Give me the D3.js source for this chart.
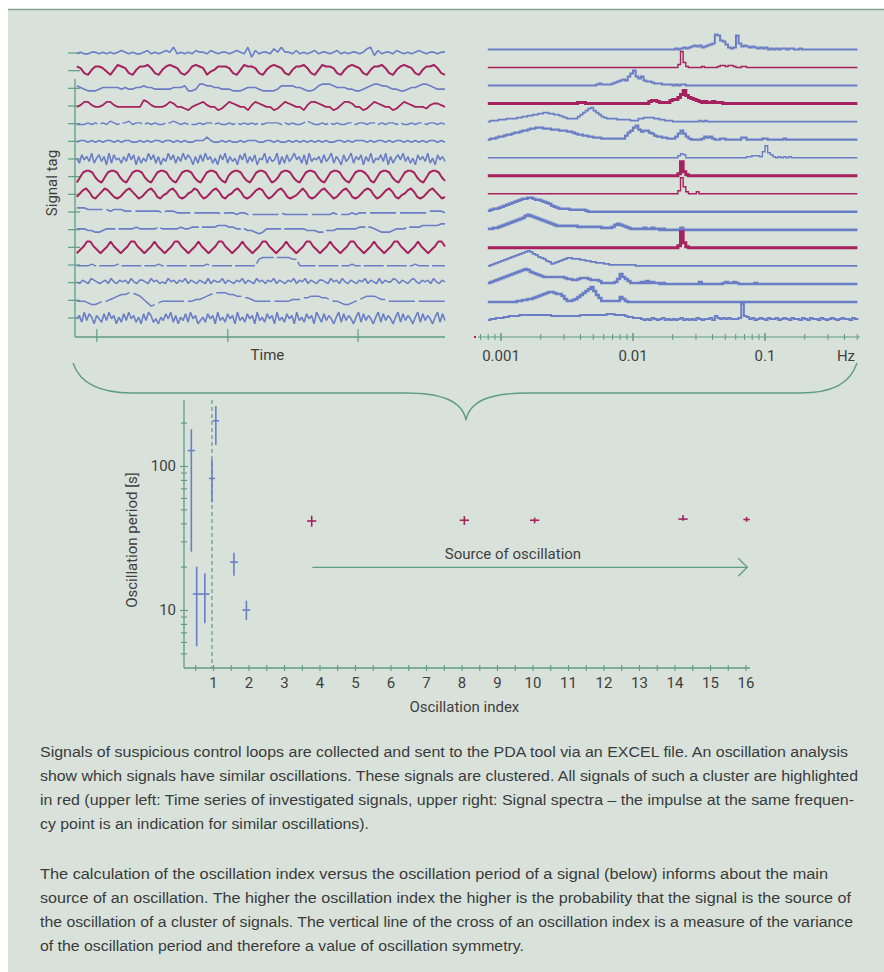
<!DOCTYPE html>
<html>
<head>
<meta charset="utf-8">
<script src="https://cdn.jsdelivr.net/npm/d3@7"></script>
<style>
  body { margin: 0; background: #ffffff; }
</style>
</head>
<body>
<div id="figure"></div>
<script>
// ---- data ----
// colour of each signal row (b = blue, r = red cluster)
var rowColors = ["b","r","b","r","b","b","b","r","r","b","b","r","b","b","b","b"];

// time series, one digit per sample (0 = low .. 9 = high)
var timeSeries = [
  "4544554545 4565454456 4545658454 5465546545 5456548264 5547585546 4545645545 6454554578 3645546545 4565455455",
  "7632577642 5876325778 6325787632 4787624577 7632587763 2578763257 7863258776 3257876325 7786325787 6325778632",
  "6543334555 5545445565 5444445556 3347766554 4433345554 3333466665 5433467776 5554433456 7766544334 5567765444",
  "4577544577 5444444487 5444576443 2456754423 5765442576 5442357654 4257765442 3577644235 7654423576 5444356654",
  "4445454546 5455645545 4544556545 4445455454 4545454545 4555545454 4565445454 5445545545 5454554544 5455455454",
  "4554545455 4545544545 4554554545 4455575445 4544545554 4554544545 4545454544 5545455545 4554545545 4545455454",
  "5274638257 3618274526 3847162538 4726153847 2638475162 7384625174 8263517482 6371548263 4816273584 6271835462 7358264173 5826471638 2547381625 7483625174 6382517463",
  "1478874214 7887421478 8742147887 4214788742 1478874215 7887421478 8741247887 4214788742 1478874214 7887521478 8742147887 4214788742",
  "3578632468 7532357864 2357863245 7863235687 4235786324 5786323578 7423578632 3468632357 8642357863 2357874235 7863245786 3235786423",
  "7776666665 6665555555 5554555444 4444444443 4443443333 3333343333 3333333334 3333434444 4444444444 4444455554",
  "5554433455 5555556555 5565555565 5666666677 7665554432 3555555555 5544433444 5555556666 5433345556 6667777788",
  "1358853135 8531358853 1358531358 8531358531 3588531358 5313588531 3585313588 5313585313 5885313585 3135885313 5853135885",
  "4444544444 4544444444 4454444444 4444454444 4444444448 9999999988 4444444444 4444544444 4444444444 4544444444",
  "5465476545 6475465647 5466547564 5475646574 6546547465 5746546574 6547564657 4654657465 7465466547 5647546546 5746547465 5764654675 4656475465",
  "4443223445 6788998753 1234444444 4455678999 9887766544 4444444455 5667776654 4322345677 7655444444 4444444444",
  "4628375164 2738461527 3846251738 6241537482 6153728461 3527461835 2746183527 4618352746 1835274618 3527461852 7364158273 6415827364 1582736415 8273641582 7364158273"
];

// spectra: amplitude (base 36 digit) on a log-frequency grid starting at 10^-3.1 Hz, step 0.02 decade
var specLogStart = -3.1;
var specLogStep = 0.02;
var spectra = [
  "0000000000 0000000000 0000000000 0000000000 0000000000 0000000000 0000000000 0101212343 423456fe98 5212e63432 3212120101 0110110010 0000000000 0000000000 0",
  "0000000000 0000000000 0000000000 0000000000 0000000000 0000000000 0000000000 003g510000 0100000122 1221001100 0000000000 0000000000 0000000000 0000000000 0",
  "0000000000 0000000000 0000000000 0000000000 0121111234 5659cf9795 4432221111 0101100000 0000000000 0000000000 0000000000 0000000000 0000000000 0000000000 0",
  "0000000000 0000000000 0000000000 0000111000 0000000000 0000000000 0233211113 4469d86543 2121121110 0000000000 0000000000 0000000000 0000000000 0000000000 0",
  "0111222333 3445566778 8998877654 3333579bde b975433332 2222111334 4443322111 0000000000 1010000000 0000000000 0000000000 0000000000 0000000000 0000000000 0",
  "0112334556 77899abbcc cbbbaaa999 8876554433 2221111111 11479cea89 9764332211 1369631000 0132310011 0000002200 0000110000 0010000000 0000000000 0000000000 0",
  "0000000000 0000000000 0000000000 0000000000 0000000000 0000000000 0000000000 0024300000 0000000000 0000000011 22216c5310 1010100000 0000000000 0000000000 0",
  "0000000000 0000000000 0000000000 0000000000 0000000000 0000000000 0000000000 002e410000 0000000000 0000000000 0000000000 0000000000 0000000000 0000000000 0",
  "0000000000 0000000000 0000000000 0000000000 0000000000 0000000000 0000000000 003g720002 0000000000 0000000000 0000000000 0000000000 0000000000 0000000000 0",
  "1233456789 abcddeedcc ba98654333 3222222100 0000000000 0000000000 0000000000 0000000000 0000000000 0000000000 0000000000 0000000000 0000000000 0000000000 0",
  "1122345678 9abcefedcb a987654444 4444333333 3332222356 5432111112 1121101000 0002000000 0000000000 0000000000 0000000000 0000000000 0000000000 0000000000 0",
  "0000000000 0000000000 0000000000 0000000000 0000000000 0000000000 0000000000 002g510000 0000000000 0000000000 0000000000 0000000000 0000000000 0000000000 0",
  "0123456789 abcdefecb9 8754234567 8877766554 4333221111 1111110000 0000000000 0000000000 0000000000 0000000000 0000000000 0000000000 0000000000 0000000000 0",
  "123456789a bcdefecba9 8777777776 5544566654 4431111125 a753111121 3121101000 0000000000 2000000001 2112100000 0100000000 0000000000 0000000000 0000000000 0",
  "0000000000 0112233456 789aa98863 1123579bdf b741111111 5310000000 0000000000 0000000000 0000000000 0000000000 0000000000 0000000000 0000000000 0000000000 0",
  "0112223344 4455555555 5555444444 4444455555 5555566655 5543322210 1021012010 1012010102 1011204212 121112g431 2012102112 0121021102 1021102101 2101211021 0"
];
var freqTicksMajor = [0.001, 0.01, 0.1];
var freqTicksMinor = [0.0007, 0.0008, 0.0009, 0.002, 0.003, 0.004, 0.005, 0.006, 0.007, 0.008, 0.009,
                      0.02, 0.03, 0.04, 0.05, 0.06, 0.07, 0.08, 0.09, 0.2, 0.3, 0.4, 0.5];
var freqLabels = ["0.001", "0.01", "0.1"];

// oscillation index vs period
var oscIndex  = [0.39, 0.54, 0.77, 0.97, 1.08, 1.59, 1.94, 3.78, 8.08, 10.06, 14.24, 16.03];
var oscPeriod = [128, 12.9, 12.9, 82, 206, 21.5, 10, 41.5, 42, 42, 42.8, 42.5];
var periodLow = [25.4, 5.6, 8.1, 56, 140, 17.3, 8.5, 37.9, 38.9, 40, 41.7, 41];
var periodHigh = [180, 20, 18, 111, 261, 25, 11.6, 45.2, 44.9, 43.8, 45.7, 44.3];
var indexSpread = [0.1, 0.11, 0.13, 0.085, 0.09, 0.11, 0.11, 0.13, 0.13, 0.13, 0.13, 0.09];
var oscRed = [false, false, false, false, false, false, false, true, true, true, true, true];
var periodTicks = [5, 6, 7, 8, 9, 10, 20, 30, 40, 50, 60, 70, 80, 90, 100, 200];
var periodLabels = [10, 100];

var captionLines = [
  "Signals of suspicious control loops are collected and sent to the PDA tool via an EXCEL file. An oscillation analysis",
  "show which signals have similar oscillations. These signals are clustered. All signals of such a cluster are highlighted",
  "in red (upper left: Time series of investigated signals, upper right: Signal spectra \u2013 the impulse at the same frequen-",
  "cy point is an indication for similar oscillations).",
  "The calculation of the oscillation index versus the oscillation period of a signal (below) informs about the main",
  "source of an oscillation. The higher the oscillation index the higher is the probability that the signal is the source of",
  "the oscillation of a cluster of signals. The vertical line of the cross of an oscillation index is a measure of the variance",
  "of the oscillation period and therefore a value of oscillation symmetry."
];

// ---- styles ----
var bg = "#d8e2da";
var green = "#5f9c84";
var blue = "#6b7ec5";
var red = "#a6215f";
var ink = "#3f3f3f";
var labelFont = "Roboto, 'Liberation Sans', sans-serif";
var captionFont = "'Liberation Sans', Arial, sans-serif";
var tsWidths = [1.6, 2, 1.6, 1.8, 1.4, 1.6, 1.6, 2, 2, 1.6, 1.6, 2, 1.5, 1.6, 1.5, 1.6];
var tsDash = [null, null, null, null, "22 3", null, null, null, null, "26 4", "40 3", null, "20 3", null, "26 4", null];
var specWidths = [2, 1.4, 2, 3, 1.6, 2.2, 1.4, 3, 1.4, 2.6, 2.6, 3, 1.8, 2.6, 2.6, 2];
var captionWidths = [808, 818, 814, 329, 788, 811, 813, 484];
var captionY = [757, 781, 805, 829, 879, 903, 927, 951];

function colorOf(k) { return k === "r" ? red : blue; }
function parseSeries(s) {
  return s.replace(/ /g, "").split("").map(function(c){ return parseInt(c, 36); });
}
function addLabel(parent, txt) {
  return parent.append("text")
      .style("font-family", labelFont)
      .attr("font-size", 15)
      .attr("fill", ink)
      .text(txt);
}

// ---- svg ----
var width = 884, height = 972;
var svg = d3.select("#figure").append("svg")
    .attr("width", width)
    .attr("height", height);

svg.append("rect")
    .attr("x", 8).attr("y", 9)
    .attr("width", width - 8).attr("height", height - 9)
    .attr("fill", bg);
svg.append("line")
    .attr("x1", 8).attr("x2", width).attr("y1", 9.5).attr("y2", 9.5)
    .attr("stroke", "#84a491").attr("stroke-width", 1.5);

// ===== time series panel =====
var timeX = d3.scaleLinear().domain([0, 100]).range([75, 445]);
var tsRow = d3.scalePoint().domain(d3.range(16)).range([53, 318]);
var tsAmp = d3.scaleLinear().domain([0, 9]).range([7.5, -7.5]);
var timeTicks = [5.9, 41.3, 76.5];

var ts = svg.append("g").attr("id", "time_series");

ts.append("line")
    .attr("x1", 75).attr("x2", 75).attr("y1", 79).attr("y2", 337)
    .attr("stroke", green).attr("stroke-width", 1.3);
ts.append("line")
    .attr("x1", 75).attr("x2", 445).attr("y1", 337).attr("y2", 337)
    .attr("stroke", green).attr("stroke-width", 1.3);

ts.selectAll("line.rowtick")
    .data(d3.range(16))
    .enter()
    .append("line")
    .attr("class", "rowtick")
    .attr("x1", 68).attr("x2", 80)
    .attr("y1", function(d){ return tsRow(d); })
    .attr("y2", function(d){ return tsRow(d); })
    .attr("stroke", green).attr("stroke-width", 1.2);

ts.selectAll("line.timetick")
    .data(timeTicks)
    .enter()
    .append("line")
    .attr("class", "timetick")
    .attr("x1", function(d){ return timeX(d); })
    .attr("x2", function(d){ return timeX(d); })
    .attr("y1", 329).attr("y2", 342)
    .attr("stroke", green).attr("stroke-width", 1.2);

timeSeries.forEach(function(s, r){
    var values = parseSeries(s);
    var x = d3.scaleLinear().domain([0, values.length - 1]).range([timeX(0.5), timeX(100)]);
    var line = d3.line()
        .x(function(d, i){ return x(i); })
        .y(function(d){ return tsRow(r) + tsAmp(d); })
        .curve(d3.curveLinear);
    ts.append("path")
        .attr("d", line(values))
        .attr("fill", "none")
        .attr("stroke", colorOf(rowColors[r]))
        .attr("stroke-width", tsWidths[r])
        .attr("stroke-linejoin", "bevel")
        .attr("stroke-dasharray", tsDash[r]);
});

addLabel(ts, "Time")
    .attr("x", timeX(52)).attr("y", 360)
    .attr("text-anchor", "middle");
addLabel(ts, "Signal tag")
    .attr("transform", "translate(57,183) rotate(-90)")
    .attr("text-anchor", "middle");

// ===== spectra panel =====
var specX = d3.scaleLog().domain([0.001, 0.1]).range([501, 765]);
var specRow = d3.scalePoint().domain(d3.range(16)).range([49.5, 320]);
var specAmp = d3.scaleLinear().domain([0, 16]).range([0, -16]);

var sp = svg.append("g").attr("id", "spectra");

spectra.forEach(function(s, r){
    var values = parseSeries(s);
    var line = d3.line()
        .x(function(d, i){ return specX(Math.pow(10, specLogStart + i * specLogStep)); })
        .y(function(d){ return specRow(r) + specAmp(d); })
        .curve(d3.curveStepAfter);
    sp.append("path")
        .attr("d", line(values))
        .attr("fill", "none")
        .attr("stroke", colorOf(rowColors[r]))
        .attr("stroke-width", specWidths[r]);
});

sp.append("line")
    .attr("x1", 478).attr("x2", 860).attr("y1", 337).attr("y2", 337)
    .attr("stroke", green).attr("stroke-width", 1.2);
sp.append("rect")
    .attr("x", 474).attr("y", 336).attr("width", 2).attr("height", 2)
    .attr("fill", red);
sp.selectAll("line.fminor")
    .data(freqTicksMinor)
    .enter()
    .append("line")
    .attr("class", "fminor")
    .attr("x1", function(d){ return specX(d); })
    .attr("x2", function(d){ return specX(d); })
    .attr("y1", 334).attr("y2", 340)
    .attr("stroke", green).attr("stroke-width", 1);
sp.selectAll("line.fmajor")
    .data(freqTicksMajor)
    .enter()
    .append("line")
    .attr("class", "fmajor")
    .attr("x1", function(d){ return specX(d); })
    .attr("x2", function(d){ return specX(d); })
    .attr("y1", 333).attr("y2", 341)
    .attr("stroke", green).attr("stroke-width", 1.5);
freqTicksMajor.forEach(function(d, i){
    addLabel(sp, freqLabels[i])
        .attr("x", specX(d)).attr("y", 361)
        .attr("text-anchor", "middle");
});
addLabel(sp, "Hz")
    .attr("x", 846).attr("y", 361)
    .attr("text-anchor", "middle");

// ===== brace =====
svg.append("path")
    .attr("d", "M73,363 C80,384 100,393 132,393 L405,393 C440,393 462,400 466,420 " +
               "C470,400 492,393 527,393 L800,393 C832,393 850,384 857,363")
    .attr("fill", "none")
    .attr("stroke", green)
    .attr("stroke-width", 1.4);

// ===== oscillation index vs period =====
var oscX = d3.scaleLinear().domain([0, 16]).range([177.5, 745.5]);
var oscY = d3.scaleLog().domain([10, 100]).range([610, 466]);

var osc = svg.append("g").attr("id", "oscillation");

osc.append("line")
    .attr("x1", 184).attr("x2", 184).attr("y1", 400).attr("y2", 668)
    .attr("stroke", green).attr("stroke-width", 1.3);
osc.append("line")
    .attr("x1", 184).attr("x2", 750).attr("y1", 668).attr("y2", 668)
    .attr("stroke", green).attr("stroke-width", 1.3);

var xAxis = d3.axisBottom(oscX)
    .tickValues(d3.range(0.5, 16.01, 0.5))
    .tickSize(0)
    .tickFormat(function(d){ return Number.isInteger(d) ? d : ""; });
var gx = osc.append("g")
    .attr("transform", "translate(0,668)")
    .call(xAxis);
gx.select(".domain").remove();
gx.selectAll(".tick line")
    .attr("y1", -3).attr("y2", 3)
    .attr("stroke", green).attr("stroke-width", 1.1);
gx.selectAll(".tick text")
    .attr("y", 9)
    .attr("dy", "0.71em")
    .attr("font-size", 15)
    .style("font-family", labelFont)
    .attr("fill", ink);

var yAxis = d3.axisLeft(oscY)
    .tickValues(periodTicks)
    .tickSize(0)
    .tickFormat(function(d){ return periodLabels.indexOf(d) >= 0 ? d : ""; });
var gy = osc.append("g")
    .attr("transform", "translate(184,0)")
    .call(yAxis);
gy.select(".domain").remove();
gy.selectAll(".tick line")
    .attr("x1", function(d){ return periodLabels.indexOf(d) >= 0 ? -4 : -3; })
    .attr("x2", function(d){ return periodLabels.indexOf(d) >= 0 ? 4 : 3; })
    .attr("stroke", green).attr("stroke-width", 1.1);
gy.selectAll(".tick text")
    .attr("x", -8)
    .attr("font-size", 15)
    .style("font-family", labelFont)
    .attr("fill", ink);

// dashed line at index 1
osc.append("line")
    .attr("x1", oscX(0.97)).attr("x2", oscX(0.97))
    .attr("y1", 400).attr("y2", 668)
    .attr("stroke", green).attr("stroke-width", 1.2)
    .attr("stroke-dasharray", "4 3");

var crosses = osc.selectAll("g.cross")
    .data(oscIndex.map(function(v, i){ return i; }))
    .enter()
    .append("g")
    .attr("class", "cross")
    .attr("stroke", function(i){ return oscRed[i] ? red : blue; })
    .attr("stroke-width", 1.6);
crosses.append("line")
    .attr("x1", function(i){ return oscX(oscIndex[i]); })
    .attr("x2", function(i){ return oscX(oscIndex[i]); })
    .attr("y1", function(i){ return oscY(periodHigh[i]); })
    .attr("y2", function(i){ return oscY(periodLow[i]); });
crosses.append("line")
    .attr("x1", function(i){ return oscX(oscIndex[i] - indexSpread[i]); })
    .attr("x2", function(i){ return oscX(oscIndex[i] + indexSpread[i]); })
    .attr("y1", function(i){ return oscY(oscPeriod[i]); })
    .attr("y2", function(i){ return oscY(oscPeriod[i]); });

// arrow "Source of oscillation"
var arrowY = oscY(19.8);
osc.append("line")
    .attr("x1", oscX(3.8)).attr("x2", oscX(16.05))
    .attr("y1", arrowY).attr("y2", arrowY)
    .attr("stroke", green).attr("stroke-width", 1.3);
osc.append("path")
    .attr("d", "M" + (oscX(16.05) - 9) + "," + (arrowY - 9) + " L" + oscX(16.05) + "," + arrowY +
               " L" + (oscX(16.05) - 9) + "," + (arrowY + 9))
    .attr("fill", "none")
    .attr("stroke", green).attr("stroke-width", 1.3);
addLabel(osc, "Source of oscillation")
    .attr("x", oscX(9.45)).attr("y", arrowY - 8)
    .attr("text-anchor", "middle");

addLabel(osc, "Oscillation index")
    .attr("x", oscX(8.08)).attr("y", 712)
    .attr("text-anchor", "middle");
addLabel(osc, "Oscillation period [s]")
    .attr("transform", "translate(137,540) rotate(-90)")
    .attr("text-anchor", "middle");

// ===== caption =====
var cap = svg.append("g").attr("id", "caption");
captionLines.forEach(function(t, i){
    cap.append("text")
        .attr("x", 40).attr("y", captionY[i])
        .style("font-family", captionFont)
        .attr("font-size", 15.5)
        .attr("fill", "#3a3a3a")
        .attr("textLength", captionWidths[i])
        .attr("lengthAdjust", "spacingAndGlyphs")
        .text(t);
});
</script>
</body>
</html>
